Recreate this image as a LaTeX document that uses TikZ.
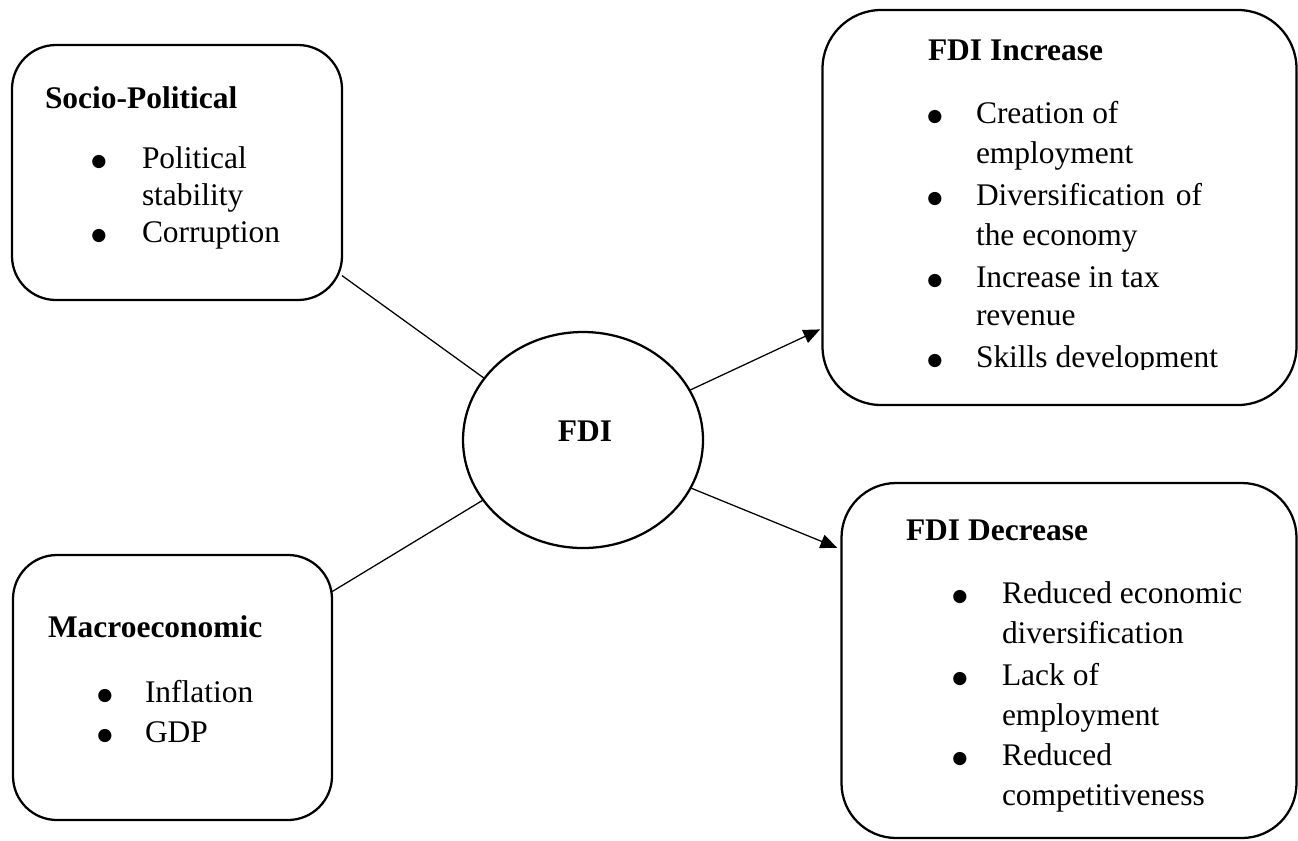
\documentclass[tikz,border=0pt]{standalone}
\usepackage{fontspec}
\setmainfont{Liberation Serif}
\newfontfamily\dvsans{DejaVu Sans}
\usetikzlibrary{shapes.geometric,arrows.meta}
\begin{document}
\begin{tikzpicture}[x=0.75pt,y=-0.75pt,
  box/.style={draw, line width=1.7pt, inner sep=0pt, outer sep=0pt, rounded corners=#1},
  txt/.style={anchor=base west, inner sep=0pt, outer sep=0pt, font=\fontsize{23.6}{28}\selectfont},
  ttl/.style={txt, font=\fontsize{23.6}{28}\selectfont\bfseries},
  bul/.style={anchor=base, inner sep=0pt, outer sep=0pt, font=\dvsans\fontsize{13}{14}\selectfont},
  link/.style={line width=0.95pt},
  arr/.style={line width=0.95pt, -{Triangle[length=12.5pt,width=10.5pt]}}
]
\useasboundingbox (0,0) rectangle (1298,840);

% boxes
\node[box=33pt, minimum width=247.5pt, minimum height=191.25pt] (soc) at (177,172.5) {};
\node[box=44pt, minimum width=355.5pt, minimum height=296.25pt] (inc) at (1059.5,207.5) {};
\node[box=41pt, minimum width=341.25pt, minimum height=266.25pt] (dec) at (1069,660.5) {};
\node[box=33pt, minimum width=239.25pt, minimum height=198.75pt] (mac) at (172.5,687.5) {};
\node[draw, ellipse, line width=1.7pt, inner sep=0pt, outer sep=0pt, minimum width=180pt, minimum height=162pt] (fdi) at (583,440) {};
\node[ttl, anchor=base] (fdit) at (585,441) {FDI};

% Socio-Political
\node[ttl] (st) at (45,108) {Socio-Political};
\node[bul] (sb1) at (99,166) {●};
\node[bul] (sb2) at (99,240) {●};
\node[txt] (s1) at (142,168) {Political};
\node[txt] (s2) at (142,205) {stability};
\node[txt] (s3) at (142,242) {Corruption};

% FDI Increase
\node[ttl] (it) at (928,60) {FDI Increase};
\node[bul] (ib1) at (935,121) {●};
\node[bul] (ib2) at (935,203) {●};
\node[bul] (ib3) at (935,285) {●};
\node[bul] (ib4) at (935,365) {●};
\node[txt] (i1) at (976,123) {Creation of};
\node[txt] (i2) at (976,163) {employment};
\node[txt] (i3) at (976,205) {\makebox[169.5pt][s]{Diversification of}};
\node[txt] (i4) at (976,245) {the economy};
\node[txt] (i5) at (976,287) {Increase in tax};
\node[txt] (i6) at (976,325) {revenue};
\begin{scope}
\clip (960,330) rectangle (1290,369);
\node[txt] (i7) at (976,367) {Skills development};
\end{scope}

% FDI Decrease
\node[ttl] (dt) at (906,540) {FDI Decrease};
\node[bul] (db1) at (960,601) {●};
\node[bul] (db2) at (960,683) {●};
\node[bul] (db3) at (960,763) {●};
\node[txt] (d1) at (1002,603) {Reduced economic};
\node[txt] (d2) at (1002,643) {diversification};
\node[txt] (d3) at (1002,685) {Lack of};
\node[txt] (d4) at (1002,725) {employment};
\node[txt] (d5) at (1002,765) {Reduced};
\node[txt] (d6) at (1002,805) {competitiveness};

% Macroeconomic
\node[ttl] (mt) at (48,637) {Macroeconomic};
\node[bul] (mb1) at (105,700) {●};
\node[bul] (mb2) at (105,740) {●};
\node[txt] (m1) at (145,702) {Inflation};
\node[txt] (m2) at (145,742) {GDP};

% connectors
\draw[link] (soc.-32) -- (fdi.148);
\draw[link] (mac.31) -- (fdi.211.5);
\draw[arr, shorten >=2pt] (fdi.25) -- (inc.207.5);
\draw[arr, shorten >=3.5pt] (fdi.-24) -- (dec.154);
\end{tikzpicture}
\end{document}
